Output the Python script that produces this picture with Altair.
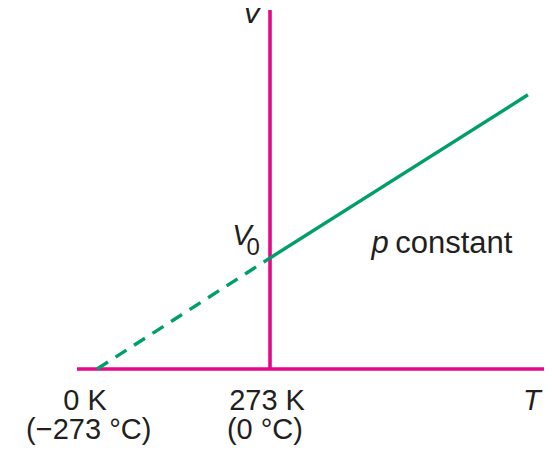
import altair as alt
import pandas as pd

# Data (temperature in K vs volume relative to V0)
dash_T = [0, 273]
dash_V = [0.0, 1.0]
solid_T = [273, 680]
solid_V = [1.0, 2.47]

# Axis lines (in data units)
h_axis_T = [-31.6, 705.4]
v_axis_T = 273
v_axis_top = 3.234

MAGENTA = "#E4098A"
GREEN = "#009E6B"
INK = "#231F20"
FONT = "Liberation Sans"

x_scale = alt.Scale(domain=[-140.45, 705.38], nice=False, zero=False)
y_scale = alt.Scale(domain=[-0.6937, 3.252], nice=False, zero=False)


def X(field="T"):
    return alt.X(f"{field}:Q", scale=x_scale, axis=None)


def Y(field="V"):
    return alt.Y(f"{field}:Q", scale=y_scale, axis=None)


dash_df = pd.DataFrame({"T": dash_T, "V": dash_V})
solid_df = pd.DataFrame({"T": solid_T, "V": solid_V})

haxis = alt.Chart(pd.DataFrame({"T": [h_axis_T[0]], "T2": [h_axis_T[1]], "V": [0.0]})).mark_rule(
    color=MAGENTA, strokeWidth=3.6
).encode(x=X(), x2="T2:Q", y=Y())

vaxis = alt.Chart(pd.DataFrame({"T": [v_axis_T], "V": [0.0], "V2": [v_axis_top]})).mark_rule(
    color=MAGENTA, strokeWidth=3.6
).encode(x=X(), y=Y(), y2="V2:Q")

dashed = alt.Chart(dash_df).mark_line(
    color=GREEN, strokeWidth=3.4, strokeDash=[13, 9]
).encode(x=X(), y=Y())

solid = alt.Chart(solid_df).mark_line(color=GREEN, strokeWidth=3.4).encode(x=X(), y=Y())

# Tick-like labels (upright)
tick_labels = pd.DataFrame({
    "T": [-18.9, -13.1, 268.3, 265.0],
    "V": [-0.369, -0.632, -0.369, -0.632],
    "text": ["0 K", "(−273 °C)", "273 K", "(0 °C)"],
})
ticks = alt.Chart(tick_labels).mark_text(
    font=FONT, fontSize=29, color=INK, align="center", baseline="alphabetic"
).encode(x=X(), y=Y(), text="text:N")

# Italic symbols
italic_labels = pd.DataFrame({
    "T": [686.4, 244.6, 228.8],
    "V": [-0.369, 3.117, 1.117],
    "text": ["T", "V", "V"],
})
italics = alt.Chart(italic_labels).mark_text(
    font=FONT, fontSize=29, fontStyle="italic", color=INK, align="center", baseline="alphabetic"
).encode(x=X(), y=Y(), text="text:N")

sub = alt.Chart(pd.DataFrame({"T": [246.5], "V": [1.027], "text": ["0"]})).mark_text(
    font=FONT, fontSize=24, color=INK, align="center", baseline="alphabetic"
).encode(x=X(), y=Y(), text="text:N")

pconst_p = alt.Chart(pd.DataFrame({"T": [433.0], "V": [1.042], "text": ["p"]})).mark_text(
    font=FONT, fontSize=31, fontStyle="italic", color=INK, align="left", baseline="alphabetic"
).encode(x=X(), y=Y(), text="text:N")

pconst = alt.Chart(pd.DataFrame({"T": [470.5], "V": [1.042], "text": ["constant"]})).mark_text(
    font=FONT, fontSize=31, color=INK, align="left", baseline="alphabetic"
).encode(x=X(), y=Y(), text="text:N")

chart = alt.layer(haxis, vaxis, dashed, solid, ticks, italics, sub, pconst_p, pconst).properties(
    width=536, height=438, padding=0, autosize=alt.AutoSizeParams(type="none")
).configure_view(stroke=None)

chart.save("out.html", embed_options={"renderer": "svg", "actions": False})
